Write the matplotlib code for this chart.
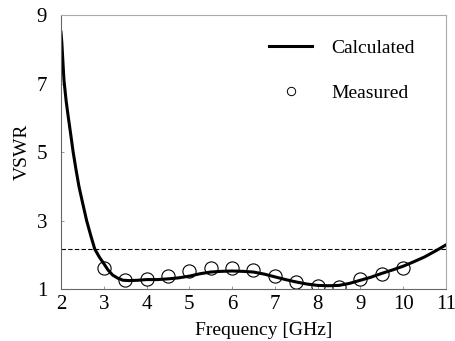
import matplotlib
matplotlib.use('Agg')
import matplotlib.pyplot as plt
from matplotlib.lines import Line2D

plt.rcParams['font.family'] = ['Liberation Serif', 'DejaVu Serif']

# calculated VSWR
calc_f = [2.0, 2.02, 2.04, 2.07, 2.12, 2.17, 2.23, 2.285, 2.35, 2.42, 2.5, 2.6, 2.7,
          2.79, 2.9, 3.0, 3.1, 3.21, 3.33, 3.45, 3.6, 3.8, 4.0, 4.25, 4.5, 4.75, 5.0,
          5.25, 5.5, 5.75, 6.0, 6.25, 6.5, 6.75, 7.0, 7.25, 7.5, 7.75, 8.0, 8.25, 8.5,
          8.75, 9.0, 9.25, 9.5, 9.75, 10.0, 10.25, 10.5, 10.75, 11.0]
calc_v = [8.5, 8.2, 7.75, 7.1, 6.5, 6.03, 5.5, 5.0, 4.5, 4.0, 3.55, 3.0, 2.55,
          2.17, 1.93, 1.75, 1.56, 1.41, 1.32, 1.26, 1.25, 1.26, 1.28, 1.28, 1.30, 1.33, 1.38,
          1.45, 1.50, 1.52, 1.53, 1.52, 1.50, 1.44, 1.36, 1.28, 1.21, 1.15, 1.11, 1.10, 1.11,
          1.17, 1.26, 1.35, 1.46, 1.56, 1.67, 1.80, 1.94, 2.11, 2.29]

# measured VSWR
meas_f = [3.0, 3.5, 4.0, 4.5, 5.0, 5.5, 6.0, 6.5, 7.0, 7.5, 8.0, 8.5, 9.0, 9.5, 10.0]
meas_v = [1.63, 1.26, 1.29, 1.39, 1.53, 1.62, 1.61, 1.55, 1.38, 1.21, 1.09, 1.07, 1.29, 1.44, 1.63]

ref_level = 2.17

fig = plt.figure(figsize=(4.55, 3.41), dpi=100)
ax = fig.add_axes([0.134, 0.152, 0.846, 0.804])

ax.axhline(ref_level, color='black', linestyle=(0, (4, 2)), linewidth=0.8)
ax.plot(calc_f, calc_v, color='black', linewidth=2.2)
ax.plot(meas_f, meas_v, linestyle='none', marker='o', markersize=9.5,
        markerfacecolor='none', markeredgecolor='black', markeredgewidth=0.8)

ax.set_xlim(2, 11)
ax.set_ylim(1, 9)
ax.set_xticks(range(2, 12))
ax.set_yticks([1, 3, 5, 7, 9])
ax.tick_params(direction='in', length=2, width=0.6, color='#888888', labelsize=15)
ax.tick_params(axis='y', pad=10)
ax.tick_params(axis='x', pad=4)
ax.set_xlabel('Frequency [GHz]', fontsize=14)
ax.xaxis.set_label_coords(0.527, -0.118)
ax.set_ylabel('VSWR', fontsize=14, labelpad=4)

for s in ['left', 'bottom']:
    ax.spines[s].set_color('#666666')
    ax.spines[s].set_linewidth(0.8)
for s in ['top', 'right']:
    ax.spines[s].set_color('#aaaaaa')
    ax.spines[s].set_linewidth(0.8)

handles = [Line2D([], [], color='black', linewidth=2.2),
           Line2D([], [], linestyle='none', marker='o', markersize=6,
                  markerfacecolor='none', markeredgecolor='black', markeredgewidth=0.7)]
ax.legend(handles, ['Calculated', 'Measured'], loc='upper right', frameon=False,
          fontsize=14, handlelength=2.2, labelspacing=1.4, handletextpad=1.0,
          bbox_to_anchor=(0.965, 0.975))

fig.savefig('out.png', dpi=100)
